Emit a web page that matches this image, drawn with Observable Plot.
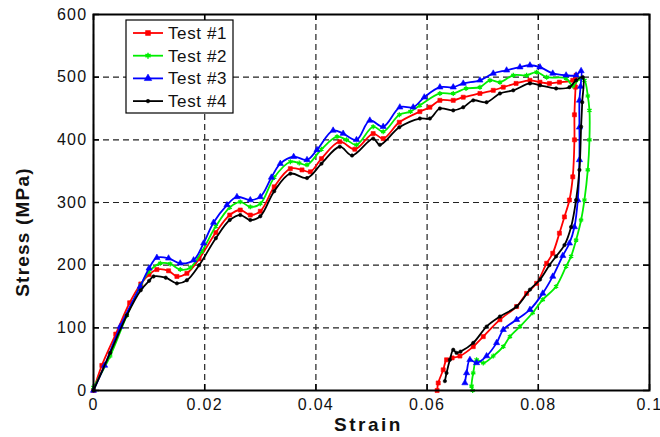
<!DOCTYPE html>
<html>
<head>
<meta charset="utf-8">
<script src="https://cdn.jsdelivr.net/npm/d3@7"></script>
<script src="https://cdn.jsdelivr.net/npm/@observablehq/plot@0.6"></script>
<style>
  html, body { margin: 0; padding: 0; background: #fff; }
  #chart svg { display: block; }
  g[aria-label="x-axis tick label"] text { letter-spacing: 1.3px; }
  g[aria-label="y-axis tick label"] text { letter-spacing: 1.3px; }
</style>
</head>
<body>
<div id="chart"></div>
<script>
// ---- Data ----
const seriesNames = ["Test #1", "Test #2", "Test #3", "Test #4"];
const seriesColors = ["#ff0000", "#00ee00", "#0000ff", "#000000"];
const seriesSymbols = ["square", "asterisk", "triangle", "circle"];

const xTicks = [0, 0.02, 0.04, 0.06, 0.08, 0.1];
const xTickLabels = ["0", "0.02", "0.04", "0.06", "0.08", "0.1"];
const yTicks = [0, 100, 200, 300, 400, 500, 600];

// [strain, stress (MPa)]
const test1 = [[0,0],[0.0015,40],[0.004,90],[0.0065,140],[0.0085,170],[0.0100,185],[0.0114,193],[0.0135,191],[0.0150,182],[0.0168,187],[0.0190,210],[0.0220,252],[0.0245,280],[0.0264,288],[0.0282,280],[0.0300,286],[0.0325,325],[0.0354,354],[0.0375,352],[0.0390,349],[0.0410,370],[0.0443,397],[0.0470,385],[0.0503,410],[0.0521,402],[0.0550,428],[0.0587,445],[0.0605,452],[0.0623,463],[0.0647,463],[0.0665,468],[0.0695,474],[0.0719,479],[0.0737,484],[0.0760,490],[0.0785,495],[0.0803,492],[0.0820,490],[0.0838,492],[0.0862,495],[0.0868,503],[0.0867,484],[0.0865,440],[0.0865,400],[0.0862,341],[0.0856,304],[0.0847,277],[0.0838,251],[0.0826,219],[0.0815,203],[0.0797,171],[0.0779,155],[0.0761,134],[0.0731,113],[0.0701,86],[0.0683,70],[0.0659,55],[0.0645,52],[0.0635,49],[0.0629,33],[0.0620,12],[0.0618,0]];
const test2 = [[0,5],[0.003,55],[0.006,120],[0.0085,168],[0.0100,190],[0.0120,203],[0.0138,202],[0.0156,193],[0.0174,196],[0.0195,222],[0.0220,262],[0.0245,292],[0.0264,301],[0.0282,293],[0.0300,298],[0.0325,340],[0.0354,365],[0.0370,363],[0.0384,360],[0.0410,385],[0.0438,405],[0.0455,400],[0.0473,392],[0.0503,421],[0.0521,413],[0.0550,440],[0.0570,445],[0.0587,455],[0.0623,474],[0.0647,474],[0.0670,482],[0.0695,484],[0.0713,495],[0.0731,492],[0.0755,503],[0.0779,503],[0.0797,508],[0.0815,500],[0.0850,498],[0.0862,486],[0.0875,498],[0.0883,495],[0.0889,470],[0.0892,447],[0.0892,400],[0.0889,352],[0.0883,304],[0.0877,272],[0.0868,240],[0.0859,214],[0.0850,198],[0.0832,166],[0.0808,145],[0.0790,124],[0.0767,102],[0.0749,86],[0.0737,70],[0.0719,55],[0.0701,44],[0.0689,49],[0.0683,28],[0.0680,7],[0.0682,0]];
const test3 = [[0,0],[0.002,40],[0.0048,102],[0.0084,166],[0.0100,195],[0.0114,212],[0.0135,211],[0.0156,203],[0.0180,208],[0.0198,235],[0.0216,268],[0.0240,296],[0.0258,309],[0.0282,304],[0.0300,309],[0.0320,340],[0.0336,362],[0.0360,373],[0.0384,368],[0.0402,384],[0.0431,415],[0.0449,410],[0.0473,400],[0.0497,431],[0.0521,421],[0.0551,452],[0.0575,452],[0.0595,468],[0.0623,484],[0.0647,484],[0.0665,490],[0.0695,495],[0.0719,506],[0.0743,511],[0.0767,516],[0.0785,519],[0.0803,516],[0.0826,506],[0.0850,503],[0.0868,503],[0.0877,510],[0.0876,485],[0.0874,463],[0.0874,420],[0.0874,368],[0.0871,304],[0.0865,261],[0.0856,235],[0.0844,215],[0.0826,182],[0.0808,155],[0.0785,129],[0.0761,113],[0.0737,97],[0.0725,76],[0.0707,55],[0.0689,44],[0.0677,49],[0.0671,28],[0.0668,12]];
const test4 = [[0,0],[0.003,60],[0.006,120],[0.0085,160],[0.0100,175],[0.0108,182],[0.0130,180],[0.0150,171],[0.0168,176],[0.0190,200],[0.0220,243],[0.0245,272],[0.0264,280],[0.0282,272],[0.0300,278],[0.0325,318],[0.0354,346],[0.0384,339],[0.0410,362],[0.0443,389],[0.0465,375],[0.0503,402],[0.0515,392],[0.0550,420],[0.0587,434],[0.0605,434],[0.0623,450],[0.0647,447],[0.0665,452],[0.0683,463],[0.0707,460],[0.0731,474],[0.0755,479],[0.0785,490],[0.0803,487],[0.0832,482],[0.0856,484],[0.0868,495],[0.0880,500],[0.0879,460],[0.0877,421],[0.0874,352],[0.0868,304],[0.0859,261],[0.0847,232],[0.0832,214],[0.0820,200],[0.0803,177],[0.0785,161],[0.0761,134],[0.0731,118],[0.0707,102],[0.0683,76],[0.0660,62],[0.0653,60],[0.0647,65],[0.0641,49],[0.0635,28],[0.0632,15]];

const seriesData = [test1, test2, test3, test4];

// ---- Build table ----
const rows = seriesData.flatMap((arr, k) =>
  arr.map(([strain, stress], i) => ({test: seriesNames[k], strain, stress, i}))
);

const seriesMarks = seriesNames.flatMap((name, k) => {
  const d = rows.filter(r => r.test === name);
  const sym = seriesSymbols[k];
  const hollow = sym === "asterisk";
  return [
    Plot.line(d, {x: "strain", y: "stress", stroke: seriesColors[k], strokeWidth: 1.8, curve: "catmull-rom"}),
    Plot.dot(d, {
      x: "strain", y: "stress", symbol: () => sym,
      r: sym === "circle" ? 1.7 : 2.3,
      fill: hollow ? "none" : seriesColors[k],
      stroke: seriesColors[k], strokeWidth: hollow ? 1.3 : 0.6
    })
  ];
});

const fmtX = d => xTickLabels[xTicks.indexOf(d)];
const gridStyle = {stroke: "#222", strokeOpacity: 1, strokeWidth: 1.2, strokeDasharray: "6,4"};

const svg = Plot.plot({
  width: 660,
  height: 437,
  marginLeft: 93,
  marginRight: 11,
  marginTop: 14,
  marginBottom: 47,
  style: {fontFamily: "'Liberation Sans', Arial, sans-serif", fontSize: "16px", color: "#111", background: "#fff"},
  x: {domain: [0, 0.1]},
  y: {domain: [0, 600]},
  marks: [
    Plot.gridX(xTicks, gridStyle),
    Plot.gridY(yTicks, gridStyle),
    ...seriesMarks,
    Plot.frame({stroke: "#000", strokeWidth: 2}),
    // inward tick marks on all four sides
    Plot.tickX(xTicks, {x: d => d, insetTop: 370, stroke: "#000", strokeWidth: 1.5}),
    Plot.tickX(xTicks, {x: d => d, insetBottom: 370, stroke: "#000", strokeWidth: 1.5}),
    Plot.tickY(yTicks, {y: d => d, insetRight: 550, stroke: "#000", strokeWidth: 1.5}),
    Plot.tickY(yTicks, {y: d => d, insetLeft: 550, stroke: "#000", strokeWidth: 1.5}),
    Plot.axisX(xTicks, {anchor: "bottom", tickSize: 0, tickPadding: 8, tickFormat: fmtX, label: null}),
    Plot.axisY(yTicks, {anchor: "left", tickSize: 0, tickPadding: 6, tickFormat: d => String(d), label: null}),
    Plot.text(["Strain"], {frameAnchor: "bottom", dy: 40, dx: -3, fontWeight: "bold", fontSize: 19, fill: "#111"})
  ]
});

const root = d3.select(svg);
root.selectAll("text").filter(function() { return this.textContent === "Strain"; }).attr("letter-spacing", "2.5px");

// y-axis title
root.append("text")
  .attr("transform", "translate(22,232) rotate(-90)")
  .attr("text-anchor", "middle")
  .attr("dominant-baseline", "central")
  .attr("font-family", "'Liberation Sans', Arial, sans-serif")
  .attr("font-size", 19).attr("font-weight", "bold").attr("letter-spacing", "1.2px")
  .attr("fill", "#111")
  .text("Stress (MPa)");

// ---- Legend ----
const lg = root.append("g").attr("class", "legend");
lg.append("rect").attr("x", 126).attr("y", 20).attr("width", 107).attr("height", 93)
  .attr("fill", "#fff").attr("stroke", "#000").attr("stroke-width", 1.2);
const d3Symbols = [d3.symbolSquare, d3.symbolAsterisk, d3.symbolTriangle, d3.symbolCircle];
seriesNames.forEach((name, k) => {
  const y = 33 + k * 22.7;
  lg.append("line").attr("x1", 133).attr("x2", 163).attr("y1", y).attr("y2", y)
    .attr("stroke", seriesColors[k]).attr("stroke-width", 1.8);
  const hollow = k === 1;
  lg.append("path").attr("d", d3.symbol(d3Symbols[k], k === 3 ? 10 : 24)())
    .attr("transform", `translate(148,${y})`)
    .attr("fill", hollow ? "none" : seriesColors[k]).attr("stroke", seriesColors[k]).attr("stroke-width", hollow ? 1.5 : 0.6);
  lg.append("text").attr("x", 168).attr("y", y + 6).text(name)
    .attr("text-anchor", "start")
    .attr("font-size", 17).attr("letter-spacing", "0.6px").attr("fill", "#111")
    .attr("font-family", "'Liberation Sans', Arial, sans-serif");
});

document.getElementById("chart").appendChild(svg);
</script>
</body>
</html>
